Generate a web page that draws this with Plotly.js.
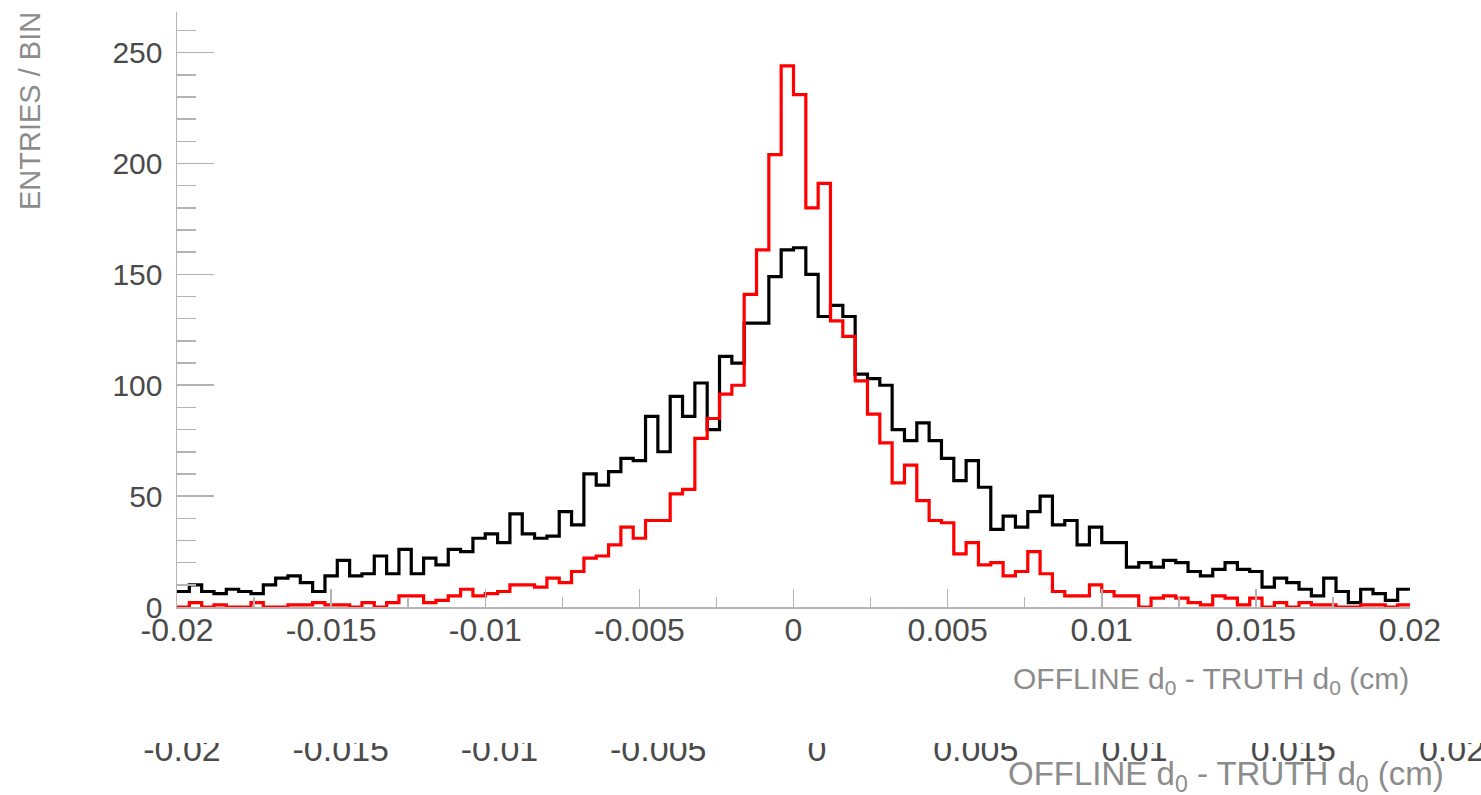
<!DOCTYPE html>
<html><head><meta charset="utf-8">
<script src="https://cdn.plot.ly/plotly-3.0.1.min.js"></script>
<style>html,body{margin:0;padding:0;background:#fff;}#chart{width:1481px;height:795px;}</style>
</head><body><div id="chart"></div>
<script>
// Histogram binning (100 uniform bins between xMin and xMax)
const xMin = -0.02, xMax = 0.02, nBins = 100;

// Entries per bin
const countsBlack = [
  7,10,7,6,8,7,6,10,13,14,
  11,7,14,21,14,15,23,15,26,15,
  22,19,26,25,31,33,29,42,33,31,
  32,43,37,60,55,61,67,66,86,70,
  95,86,101,80,113,110,128,128,149,161,
  162,150,131,136,131,105,103,100,80,75,
  83,75,67,57,66,54,35,41,36,43,
  50,37,39,28,36,29,29,18,20,18,
  21,20,16,14,17,20,17,16,9,13,
  11,8,5,13,7,2,8,6,3,8
];
const countsRed = [
  0,2,0,1,0,0,2,0,0,1,
  1,2,1,1,0,2,0,2,5,5,
  2,3,5,8,5,6,7,10,10,9,
  13,11,16,22,23,28,36,31,39,39,
  51,53,76,85,96,100,141,161,204,244,
  231,180,191,129,122,102,87,74,56,64,
  48,39,38,24,29,19,20,14,16,25,
  15,7,5,5,10,7,5,5,0,4,
  5,4,2,1,5,4,1,4,0,2,
  0,2,1,1,0,0,1,1,0,1
];

const xTickVals = [-0.02,-0.015,-0.01,-0.005,0,0.005,0.01,0.015,0.02];
const xTickText = ['-0.02','-0.015','-0.01','-0.005','0','0.005','0.01','0.015','0.02'];
const yTickVals = [0,50,100,150,200,250];
const yTickText = ['0','50','100','150','200','250'];
const xTitleText = 'OFFLINE d<sub>0</sub> - TRUTH d<sub>0</sub> (cm)';
const yTitleText = 'ENTRIES / BIN';

const binWidth = (xMax - xMin) / nBins;
const edges = Array.from({length: nBins + 1}, (_, i) => xMin + i * binWidth);
function stepY(c) { return c.concat([c[c.length - 1]]); }

const W = 1481, H = 795;
const mL = 177, mR = 0, mT = 12, mB = 0;
const pw = W - mL - mR, ph = H - mT - mB;
const px = v => (v - mL) / pw;          // pixel x -> paper x
const py = v => (H - mB - v) / ph;      // pixel y -> paper y

const axisGray = '#b4b4b4';
const labelColor = '#4a4a4a';
const titleColor = '#8c8c8c';
const sans = '"Liberation Sans", Arial, sans-serif';

const traces = [
  {x: edges, y: stepY(countsBlack), type: 'scatter', mode: 'lines',
   line: {shape: 'hv', color: '#000000', width: 3.2}, showlegend: false, hoverinfo: 'skip'},
  {x: edges, y: stepY(countsRed), type: 'scatter', mode: 'lines',
   line: {shape: 'hv', color: '#ff0000', width: 3.2}, showlegend: false, hoverinfo: 'skip'},
  {x: [], y: [], xaxis: 'x2', yaxis: 'y', type: 'scatter', mode: 'lines',
   showlegend: false, hoverinfo: 'skip'}
];

const layout = {
  width: W, height: H,
  margin: {l: mL, r: mR, t: mT, b: mB, pad: 0},
  paper_bgcolor: '#ffffff', plot_bgcolor: 'rgba(0,0,0,0)',
  showlegend: false,
  xaxis: {
    domain: [0, px(1410)],
    range: [xMin, xMax], anchor: 'y',
    showgrid: false, zeroline: false,
    showline: true, linecolor: axisGray, linewidth: 1.5,
    tickmode: 'array', tickvals: xTickVals, ticktext: xTickText,
    ticks: 'inside', ticklen: 18, tickwidth: 1.5, tickcolor: axisGray,
    minor: {tickmode: 'linear', tick0: xMin, dtick: 0.0025, ticks: 'inside', ticklen: 10, tickwidth: 1.5, tickcolor: axisGray, showgrid: false},
    tickfont: {family: sans, size: 32, color: labelColor},
    ticklabelstandoff: -6
  },
  xaxis2: {
    domain: [px(182), px(1452)],
    range: [xMin, xMax], anchor: 'free', position: py(726),
    showgrid: false, zeroline: false, showline: false, ticks: '',
    tickmode: 'array', tickvals: xTickVals, ticktext: xTickText,
    ticklabeloverflow: 'allow',
    tickfont: {family: sans, size: 34, color: labelColor}
  },
  yaxis: {
    domain: [py(607), 1],
    range: [0, 268.3],
    showgrid: false, zeroline: false,
    showline: true, linecolor: axisGray, linewidth: 1.5,
    tickmode: 'array', tickvals: yTickVals, ticktext: yTickText,
    ticks: 'inside', ticklen: 37, tickwidth: 1.5, tickcolor: axisGray,
    minor: {tickmode: 'linear', tick0: 0, dtick: 10, ticks: 'inside', ticklen: 19, tickwidth: 1.5, tickcolor: axisGray, showgrid: false},
    tickfont: {family: sans, size: 30, color: labelColor},
    ticklabelstandoff: 7
  },
  shapes: [
    {type: 'rect', xref: 'paper', yref: 'paper', layer: 'above',
     x0: px(0), x1: 1, y0: py(743), y1: py(696),
     fillcolor: '#ffffff', line: {width: 0}}
  ],
  annotations: [
    {text: yTitleText, textangle: -90, xref: 'paper', yref: 'paper',
     x: px(30), y: py(10), xanchor: 'center', yanchor: 'top', showarrow: false,
     font: {family: sans, size: 29, color: titleColor}},
    {text: xTitleText, xref: 'paper', yref: 'paper',
     x: px(1411), y: py(680), xanchor: 'right', yanchor: 'middle', showarrow: false,
     font: {family: sans, size: 30, color: titleColor}},
    {text: xTitleText, xref: 'paper', yref: 'paper',
     x: px(1446), y: py(776), xanchor: 'right', yanchor: 'middle', showarrow: false,
     font: {family: sans, size: 33, color: titleColor}}
  ]
};

Plotly.newPlot('chart', traces, layout, {displayModeBar: false, staticPlot: true});
</script>
</body></html>
